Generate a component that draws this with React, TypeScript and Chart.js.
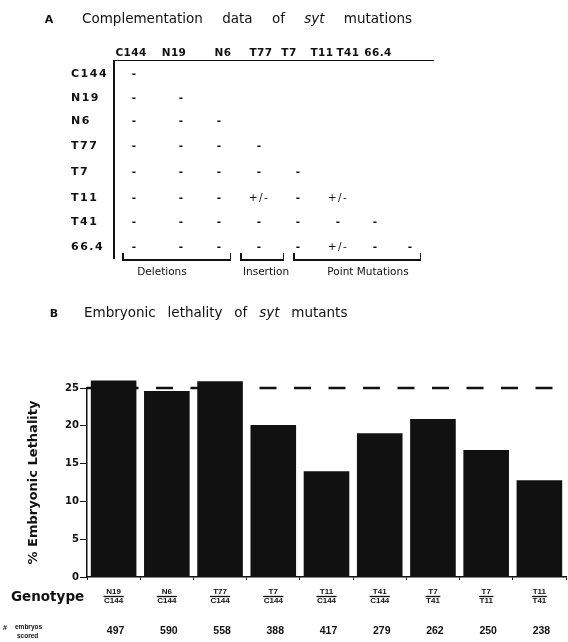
import React, { useEffect, useRef } from "react";
import { Chart, registerables } from "chart.js";

Chart.register(...registerables);

// ---------- Panel B data ----------
const GENOTYPE_TOP = ["N19", "N6", "T77", "T7", "T11", "T41", "T7", "T7", "T11"];
const GENOTYPE_BOTTOM = ["C144", "C144", "C144", "C144", "C144", "C144", "T41", "T11", "T41"];
const LETHALITY = [26.0, 24.6, 25.9, 20.1, 14.0, 19.0, 20.9, 16.8, 12.8];
const EMBRYOS_SCORED = [497, 590, 558, 388, 417, 279, 262, 250, 238];
const EXPECTED_LETHALITY = 25;
const Y_MIN = 0;
const Y_MAX = 25;
const Y_STEP = 5;

// ---------- Panel A data ----------
const MUTANTS = ["C144", "N19", "N6", "T77", "T7", "T11", "T41", "66.4"];
const COMPLEMENTATION = [
  ["-"],
  ["-", "-"],
  ["-", "-", "-"],
  ["-", "-", "-", "-"],
  ["-", "-", "-", "-", "-"],
  ["-", "-", "-", "+/-", "-", "+/-"],
  ["-", "-", "-", "-", "-", "-", "-"],
  ["-", "-", "-", "-", "-", "+/-", "-", "-"],
];
const GROUP_LABELS = ["Deletions", "Insertion", "Point Mutations"];

// ---------- layout (style only) ----------
const FONT = "'DejaVu Sans', sans-serif";
const SMALL_FONT = "'Liberation Sans', sans-serif";
const INK = "#111";
const HEAD_X = [131, 174, 223, 261, 289, 322, 348, 378];
const COL_X = [134, 181, 219, 259, 298, 338, 375, 410];
const ROW_Y = [73, 97, 120, 145, 171, 197, 221, 246];
const BRACKET_X = [
  [122, 231],
  [240, 284],
  [293, 421],
];
const GROUP_LABEL_X = [162, 266, 368];

type TxtProps = {
  x: number;
  y: number;
  align?: "left" | "center" | "right";
  size: number;
  weight?: string;
  family?: string;
  style?: React.CSSProperties;
  children: React.ReactNode;
};

function Txt({ x, y, align = "center", size, weight = "bold", family = FONT, style, children }: TxtProps) {
  const tx = align === "center" ? "-50%" : align === "right" ? "-100%" : "0";
  return (
    <div
      style={{
        position: "absolute",
        left: x,
        top: y,
        transform: `translate(${tx},-50%)`,
        fontFamily: family,
        fontSize: size,
        fontWeight: weight as any,
        lineHeight: 1,
        whiteSpace: "nowrap",
        color: INK,
        ...style,
      }}
    >
      {children}
    </div>
  );
}

function Rect({ x, y, w, h }: { x: number; y: number; w: number; h: number }) {
  return <div style={{ position: "absolute", left: x, top: y, width: w, height: h, background: INK }} />;
}

const referenceLinePlugin = {
  id: "referenceLine",
  beforeDatasetsDraw(chart: any) {
    const { ctx, chartArea, scales } = chart;
    const y = scales.y.getPixelForValue(EXPECTED_LETHALITY);
    ctx.save();
    ctx.strokeStyle = INK;
    ctx.lineWidth = 2.5;
    ctx.setLineDash([17, 17.5]);
    ctx.beginPath();
    ctx.moveTo(chartArea.left, y);
    ctx.lineTo(chartArea.right, y);
    ctx.stroke();
    ctx.restore();
  },
};

const genotypeLabelsPlugin = {
  id: "genotypeLabels",
  afterDraw(chart: any) {
    const { ctx, chartArea, scales } = chart;
    const x = scales.x;
    ctx.save();
    ctx.fillStyle = INK;
    ctx.strokeStyle = INK;
    ctx.textAlign = "center";
    ctx.textBaseline = "middle";
    GENOTYPE_TOP.forEach((top, i) => {
      const cx = x.getPixelForValue(i);
      const bottom = GENOTYPE_BOTTOM[i];
      ctx.font = `bold 8px 'Liberation Sans', sans-serif`;
      ctx.fillText(top, cx, chartArea.bottom + 15);
      ctx.fillText(bottom, cx, chartArea.bottom + 23.5);
      const w = Math.max(ctx.measureText(top).width, ctx.measureText(bottom).width) + 1;
      ctx.lineWidth = 1.3;
      ctx.beginPath();
      ctx.moveTo(cx - w / 2, chartArea.bottom + 19.5);
      ctx.lineTo(cx + w / 2, chartArea.bottom + 19.5);
      ctx.stroke();
      ctx.font = `bold 10.5px 'Liberation Sans', sans-serif`;
      ctx.fillText(String(EMBRYOS_SCORED[i]), cx + 2, chartArea.bottom + 54);
    });
    ctx.restore();
  },
};

function LethalityChart() {
  const ref = useRef<HTMLCanvasElement | null>(null);
  useEffect(() => {
    if (!ref.current) return;
    const chart = new Chart(ref.current, {
      type: "bar",
      data: {
        labels: GENOTYPE_TOP.map((t, i) => `${t}/${GENOTYPE_BOTTOM[i]}`),
        datasets: [
          {
            data: LETHALITY,
            backgroundColor: INK,
            borderWidth: 0,
            barPercentage: 0.857,
            categoryPercentage: 1,
            clip: false as any,
          },
        ],
      },
      plugins: [referenceLinePlugin, genotypeLabelsPlugin],
      options: {
        responsive: false,
        animation: false,
        devicePixelRatio: 1,
        layout: { padding: { left: 0, right: 2, top: 388, bottom: 0 } },
        plugins: { legend: { display: false }, tooltip: { enabled: false } },
        scales: {
          x: {
            ticks: { display: false },
            grid: { display: true, drawOnChartArea: false, offset: true, tickLength: 3, color: INK, lineWidth: 1 },
            border: { display: true, color: INK, width: 1.5 },
            afterFit: (s: any) => {
              s.height = 65;
            },
          },
          y: {
            min: Y_MIN,
            max: Y_MAX,
            ticks: {
              stepSize: Y_STEP,
              color: INK,
              padding: 1,
              font: { family: "'DejaVu Sans', sans-serif", size: 10, weight: "bold" },
            },
            grid: { display: true, drawOnChartArea: false, tickLength: 7, color: INK, lineWidth: 1 },
            border: { display: true, color: INK, width: 1.5 },
            title: {
              display: true,
              text: "% Embryonic Lethality",
              color: INK,
              padding: { top: 26, bottom: 0 },
              font: { family: "'DejaVu Sans', sans-serif", size: 13, weight: "bold" },
            },
            afterFit: (s: any) => {
              s.width = 87;
            },
          },
        },
      } as any,
    });
    return () => chart.destroy();
  }, []);
  return <canvas ref={ref} width={568} height={642} style={{ position: "absolute", left: 0, top: 0 }} />;
}

export default function App() {
  return (
    <div style={{ position: "absolute", left: 0, top: 0, width: 568, height: 642, background: "#fff", overflow: "hidden" }}>
      <LethalityChart />

      {/* Panel A title */}
      <Txt x={49} y={19} size={11}>A</Txt>
      <Txt x={82} y={19} align="left" size={13.5} weight="normal" style={{ wordSpacing: 15 }}>
        Complementation data of <i>syt</i> mutations
      </Txt>

      {/* column headers */}
      {MUTANTS.map((m, j) => (
        <Txt key={"h" + m} x={HEAD_X[j]} y={52} size={10.5} style={{ letterSpacing: 0.4 }}>
          {m}
        </Txt>
      ))}
      <Rect x={114} y={59.5} w={320} h={1.5} />
      <Rect x={113} y={60} w={1.5} h={199} />

      {/* row labels and cells */}
      {MUTANTS.map((m, i) => (
        <React.Fragment key={"r" + m}>
          <Txt x={71} y={ROW_Y[i]} align="left" size={11} style={{ letterSpacing: 1.5 }}>
            {m}
          </Txt>
          {COMPLEMENTATION[i].map((v, j) => (
            <Txt key={j} x={COL_X[j]} y={ROW_Y[i]} size={10.5} weight={v === "-" ? "bold" : "normal"} style={{ letterSpacing: v === "-" ? 0 : 1.5 }}>
              {v}
            </Txt>
          ))}
        </React.Fragment>
      ))}

      {/* group brackets */}
      {GROUP_LABELS.map((g, k) => {
        const [x1, x2] = BRACKET_X[k];
        return (
          <React.Fragment key={g}>
            <Rect x={x1} y={259} w={x2 - x1} h={1.5} />
            <Rect x={x1} y={253} w={1.5} h={7} />
            <Rect x={x2 - 1.5} y={253} w={1.5} h={7} />
            <Txt x={GROUP_LABEL_X[k]} y={271} size={10.5} weight="normal">
              {g}
            </Txt>
          </React.Fragment>
        );
      })}

      {/* Panel B title */}
      <Txt x={54} y={313} size={11}>B</Txt>
      <Txt x={84} y={313} align="left" size={13.5} weight="normal" style={{ wordSpacing: 7.5 }}>
        Embryonic lethality of <i>syt</i> mutants
      </Txt>

      {/* row headers under the chart */}
      <Txt x={11} y={597} align="left" size={13.5}>Genotype</Txt>
      <Txt x={3} y={627} align="left" size={7} family={SMALL_FONT}>#</Txt>
      <Txt x={15} y={627} align="left" size={6.5} family={SMALL_FONT}>embryos</Txt>
      <Txt x={17} y={636} align="left" size={6.5} family={SMALL_FONT}>scored</Txt>
    </div>
  );
}
